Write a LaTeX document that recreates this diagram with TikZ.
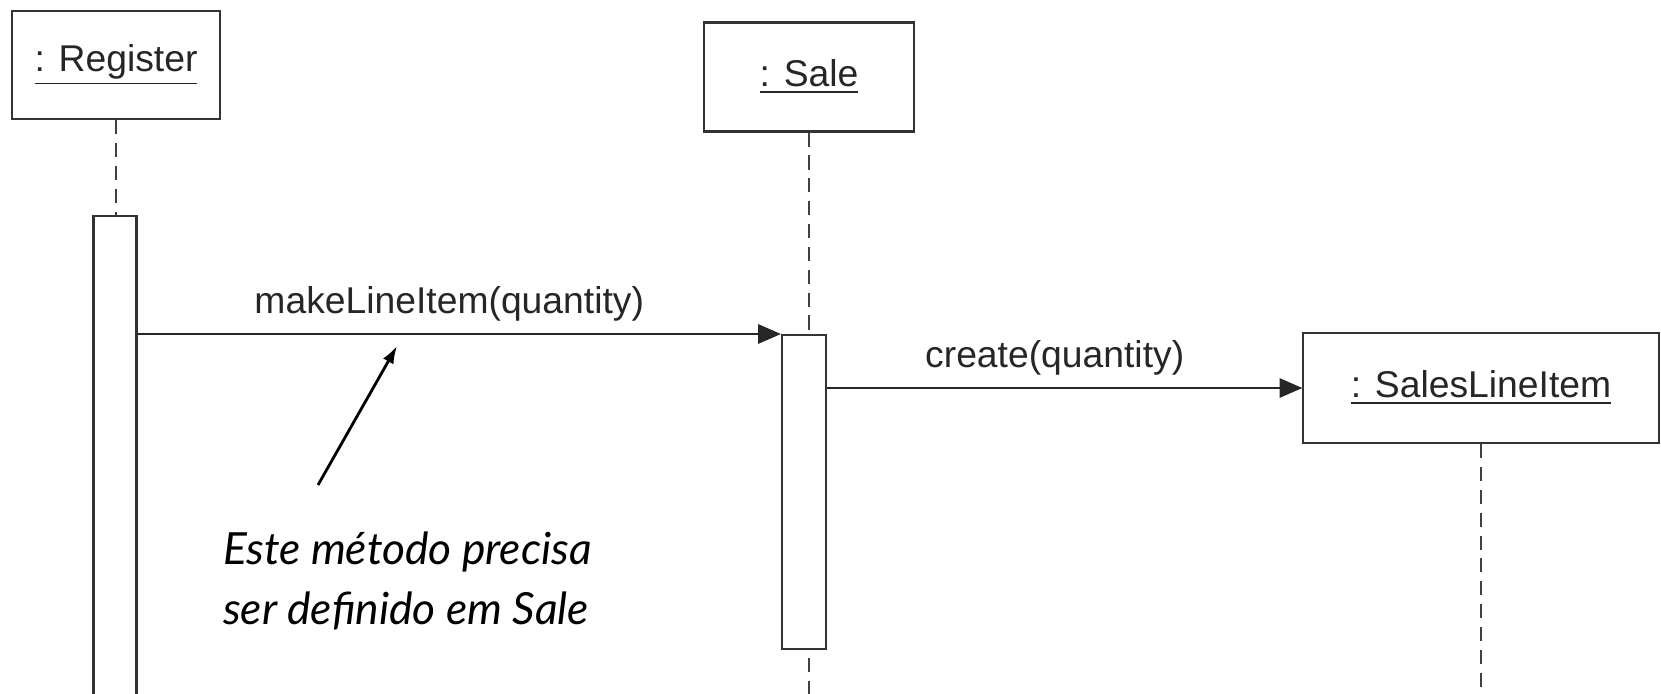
\documentclass[tikz,border=0pt]{standalone}
\usepackage{fontspec}
\setmainfont{Liberation Sans}
\newfontfamily\notefont{Lato}
\usetikzlibrary{positioning, arrows.meta}

\begin{document}
\begin{tikzpicture}[x=0.01cm, y=-0.01cm, line width=0.6pt,
  obj/.style={draw=black!80, fill=white, inner sep=0pt, font=\fontsize{10.6}{12}\selectfont, text=black!85},
  bar/.style={draw=black!80, fill=white, inner sep=0pt, anchor=north},
  life/.style={black!75, line width=0.5pt, dash pattern=on 4pt off 2.5pt},
  msg/.style={black!85, -{Triangle[length=6.5pt, width=5.5pt]}},
  lbl/.style={font=\fontsize{10.6}{12}\selectfont, text=black!85, xshift=-0.1cm},
  note/.style={font=\notefont\itshape\fontsize{12.6}{17.1}\selectfont, align=left, anchor=west, inner sep=0pt}]
\useasboundingbox (0,0) rectangle (1661,693);
% objects
\node[obj, minimum width=2.07cm, minimum height=1.08cm] (reg) at (116,65) {\underline{: Register}};
\node[obj, minimum width=2.10cm, minimum height=1.09cm] (sale) at (809,77) {\underline{: Sale}};
\node[obj, minimum width=3.55cm, minimum height=1.10cm] (sli) at (1481,388) {\underline{: SalesLineItem}};
% lifelines
\draw[life] (reg.south) -- ++(0,100);
\draw[life] (sale.south) -- ++(0,600);
\draw[life] (sli.south) -- ++(0,280);
% activations
\node[bar, minimum width=0.43cm, minimum height=4.95cm] (regbar) at (115,215) {};
\node[bar, minimum width=0.44cm, minimum height=3.14cm] (salebar) at (804,334) {};
% messages
\draw[msg] (regbar.east |- salebar.north west) -- node[lbl, above] {makeLineItem(quantity)} (salebar.north west);
\draw[msg] (salebar.east |- sli.west) -- node[lbl, above] {create(quantity)} (sli.west);
% note
\node[note] (txt) at (222,581) {Este método precisa\\ser definido em Sale};
\coordinate (tail) at (318,485);
\coordinate (tip) at (397,346);
\draw[line width=0.8pt, -{Latex[length=5pt, width=3.4pt]}] (tail) -- (tip);
\end{tikzpicture}
\end{document}
